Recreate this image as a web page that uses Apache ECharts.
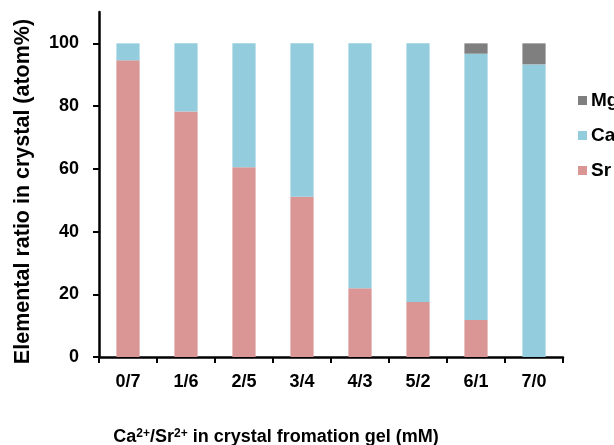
<!DOCTYPE html>
<html>
<head>
<meta charset="utf-8">
<script src="https://cdn.jsdelivr.net/npm/echarts@6/dist/echarts.min.js"></script>
<style>
html, body { margin: 0; padding: 0; background: #fff; }
#main { width: 614px; height: 445px; }
</style>
</head>
<body>
<div id="main"></div>
<script>
var categories = ['0/7', '1/6', '2/5', '3/4', '4/3', '5/2', '6/1', '7/0'];
var srData = [94.6, 78.3, 60.5, 51.1, 21.9, 17.5, 11.8, 0];
var caData = [5.4, 21.7, 39.5, 48.9, 78.1, 82.5, 84.9, 93.3];
var mgData = [0, 0, 0, 0, 0, 0, 3.3, 6.7];
var yTicks = [0, 20, 40, 60, 80, 100];

var myChart = echarts.init(document.getElementById('main'));
var font = 'Liberation Sans, Arial, sans-serif';

var option = {
    animation: false,
    textStyle: { fontFamily: font },
    title: {
        text: 'Ca{sup|2+}/Sr{sup|2+} in crystal fromation gel (mM)',
        left: 271,
        top: 423,
        textAlign: 'center',
        textStyle: {
            fontFamily: font,
            fontSize: 18,
            fontWeight: 'bold',
            color: '#000',
            rich: {
                sup: { fontSize: 12, fontWeight: 'bold', verticalAlign: 'top', padding: [0, 0, 6, 0], fontFamily: font, color: '#000' }
            }
        }
    },
    legend: {
        orient: 'vertical',
        left: 573,
        top: 86,
        itemWidth: 9,
        itemHeight: 9,
        itemGap: 16,
        icon: 'rect',
        data: ['Mg', 'Ca', 'Sr'],
        textStyle: { fontFamily: font, fontSize: 19, fontWeight: 'bold', color: '#000', padding: [0, 0, 0, -1] }
    },
    grid: {
        left: 99,
        right: 51,
        top: 12,
        bottom: 88
    },
    xAxis: {
        type: 'category',
        data: categories,
        axisLine: { lineStyle: { color: '#000', width: 2.5 } },
        axisTick: { show: true, length: 6, lineStyle: { color: '#000', width: 2 } },
        axisLabel: { color: '#000', fontSize: 18, fontWeight: 'bold', margin: 16, fontFamily: font },
        splitLine: { show: false }
    },
    yAxis: {
        type: 'value',
        min: 0,
        max: 110,
        name: 'Elemental ratio in crystal (atom%)',
        nameLocation: 'middle',
        nameGap: 65,
        nameTextStyle: { color: '#000', fontSize: 21.5, fontWeight: 'bold', fontFamily: font, padding: [0, 14, 0, 0] },
        axisLine: { show: true, lineStyle: { color: '#000', width: 2.5 } },
        axisTick: { show: true, length: 6, customValues: yTicks, lineStyle: { color: '#000', width: 2 } },
        axisLabel: { color: '#000', fontSize: 18, fontWeight: 'bold', margin: 20, customValues: yTicks, fontFamily: font },
        splitLine: { show: false }
    },
    series: [
        {
            name: 'Sr',
            type: 'bar',
            stack: 'total',
            barWidth: '40%',
            itemStyle: { color: '#d99694' },
            data: srData
        },
        {
            name: 'Ca',
            type: 'bar',
            stack: 'total',
            itemStyle: { color: '#93cddd' },
            data: caData
        },
        {
            name: 'Mg',
            type: 'bar',
            stack: 'total',
            itemStyle: { color: '#7f7f7f' },
            data: mgData
        }
    ]
};
myChart.setOption(option);
</script>
</body>
</html>
